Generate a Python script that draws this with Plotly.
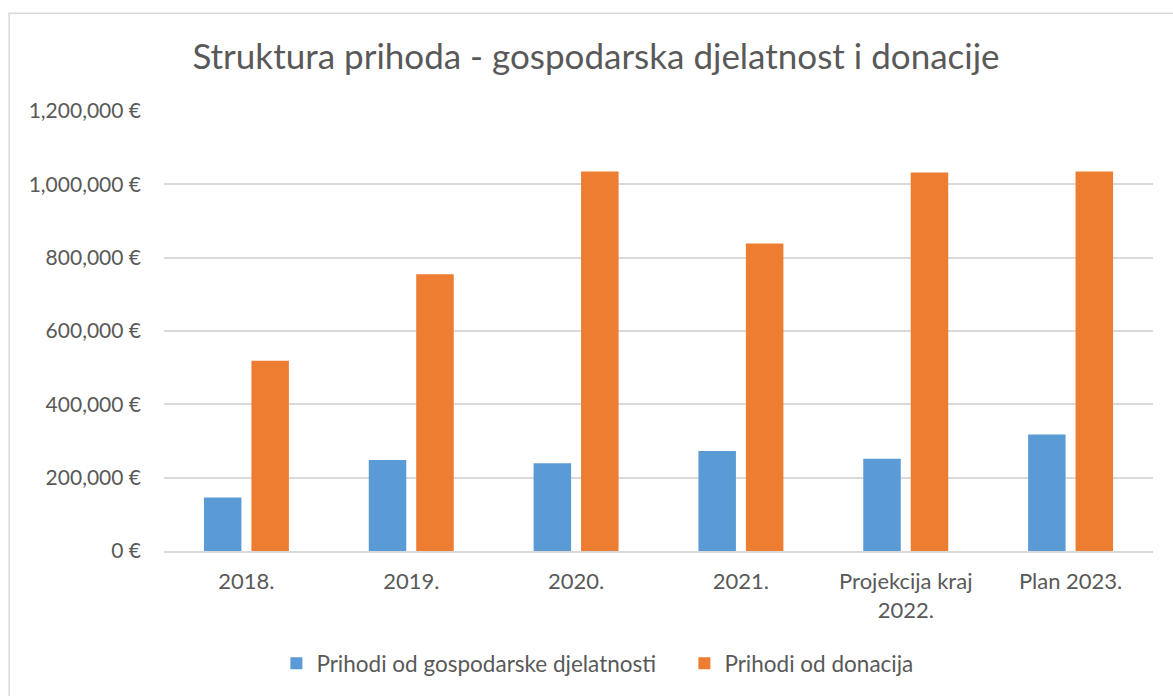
import plotly.graph_objects as go

categories = ["2018.", "2019.", "2020.", "2021.", "Projekcija kraj<br>2022.", "Plan 2023."]
gospodarska = [146000, 248500, 239000, 272500, 251800, 318000]
donacije = [519000, 754700, 1035000, 838500, 1032000, 1035000]
series_names = ["Prihodi od gospodarske djelatnosti", "Prihodi od donacija"]
tick_vals = [0, 200000, 400000, 600000, 800000, 1000000, 1200000]
tick_text = ["0 €", "200,000 €", "400,000 €", "600,000 €", "800,000 €", "1,000,000 €", "1,200,000 €"]

W, H = 1173, 696
L, R, T, B = 163.5, 1153.5, 111, 551.6

fig = go.Figure()
fig.add_trace(go.Bar(x=categories, y=gospodarska, name=series_names[0],
                     marker=dict(color="#5B9BD5", line=dict(width=0))))
fig.add_trace(go.Bar(x=categories, y=donacije, name=series_names[1],
                     marker=dict(color="#ED7D31", line=dict(width=0))))

font_family = "Lato, Open Sans, sans-serif"
fig.update_layout(
    width=W, height=H,
    margin=dict(l=L, r=W - R, t=T, b=H - B, pad=0),
    paper_bgcolor="white", plot_bgcolor="white",
    barmode="group", bargap=0.424, bargroupgap=0.21,
    title=dict(text="Struktura prihoda - gospodarska djelatnost i donacije",
               x=596 / W, xanchor="center", y=1 - 57 / H, yanchor="middle",
               font=dict(family=font_family, size=35, color="#595959")),
    font=dict(family=font_family, color="#595959", size=20),
    legend=dict(orientation="h", x=(276 - L) / (R - L), xanchor="left",
                y=(B - 663) / (B - T), yanchor="middle",
                font=dict(size=22.5, color="#595959"), itemwidth=30,
                entrywidth=363, entrywidthmode="pixels",
                traceorder="normal"),
    showlegend=True,
)
fig.update_yaxes(range=[0, 1200000], tickvals=tick_vals, ticktext=tick_text,
                 showgrid=True, gridcolor="#D9D9D9", gridwidth=1.5,
                 zeroline=False, showline=False, ticks="",
                 ticklabelstandoff=22, tickfont=dict(size=21, color="#595959"))
fig.update_xaxes(showgrid=False, showline=True, linecolor="#D9D9D9", linewidth=1.5,
                 ticks="", ticklabelstandoff=10, tickfont=dict(size=22, color="#595959"))

# chart border
fig.add_shape(type="rect", xref="paper", yref="paper",
              x0=(8.5 - L) / (R - L), x1=(1190 - L) / (R - L),
              y0=(B - 710) / (B - T), y1=(B - 13) / (B - T),
              line=dict(color="#D9D9D9", width=1.5), fillcolor="rgba(0,0,0,0)", layer="below")

fig.write_html("out.html", config={"displayModeBar": False},
               post_script="document.body.style.margin='0';document.body.style.overflow='hidden';")
